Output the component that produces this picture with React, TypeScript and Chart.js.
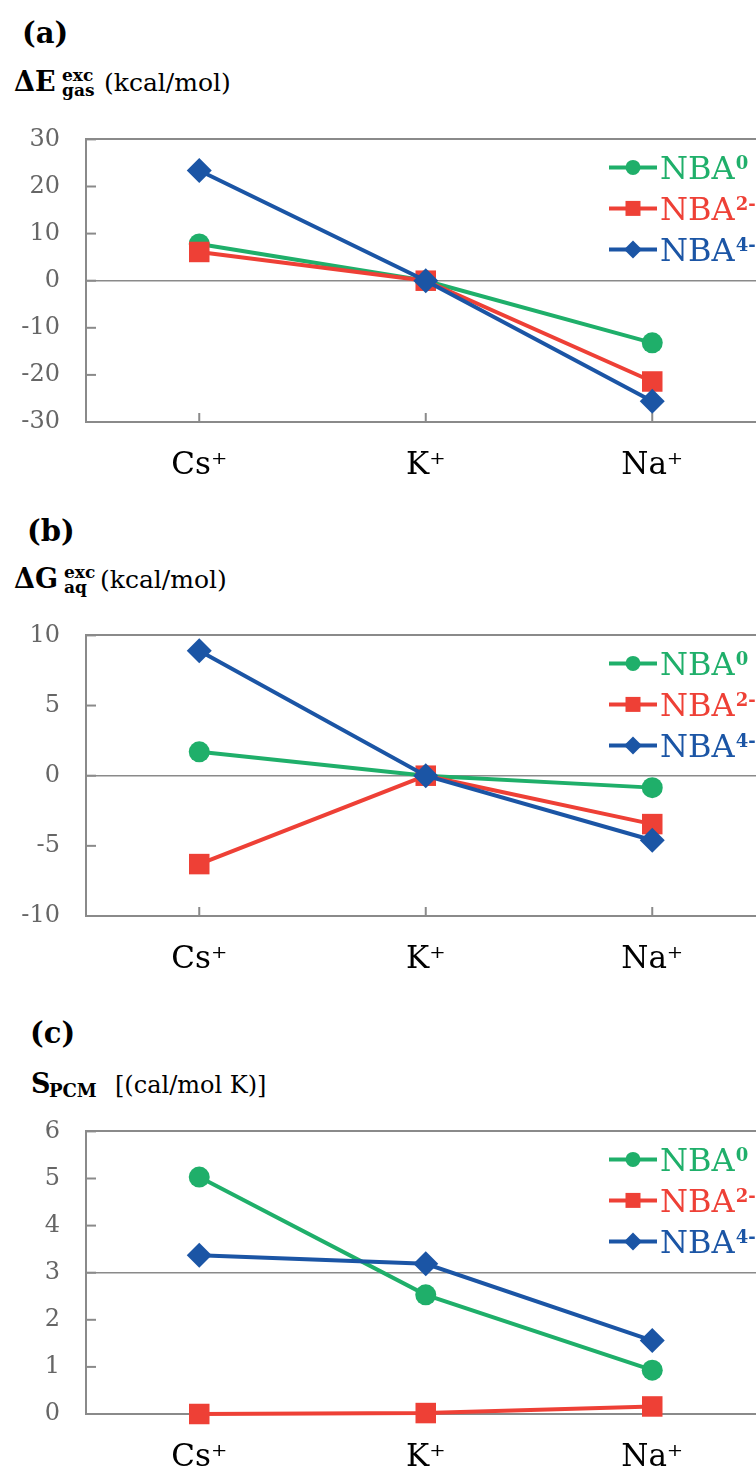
import React, { useEffect, useRef } from 'react';
import { Chart, registerables } from 'chart.js';
import { drawPoint } from 'chart.js/helpers';

Chart.register(...registerables);

// ---------- data ----------
const categories = ['Cs⁺', 'K⁺', 'Na⁺'];
const seriesNames = ['NBA', 'NBA', 'NBA'];
const seriesSup = ['0', '2-', '4-'];
const seriesColors = ['#1FAF6A', '#EE4036', '#1B55A5'];
const seriesStyles = ['circle', 'rect', 'rectRot'];

const gasNBA0 = [7.8, 0, -13.2];
const gasNBA2 = [6.1, 0, -21.4];
const gasNBA4 = [23.4, 0, -25.6];
const gasTicks = [-30, -20, -10, 0, 10, 20, 30];

const aqNBA0 = [1.7, 0, -0.85];
const aqNBA2 = [-6.3, 0, -3.45];
const aqNBA4 = [8.9, 0, -4.6];
const aqTicks = [-10, -5, 0, 5, 10];

const pcmNBA0 = [5.03, 2.53, 0.93];
const pcmNBA2 = [0.0, 0.02, 0.16];
const pcmNBA4 = [3.37, 3.19, 1.56];
const pcmTicks = [0, 1, 2, 3, 4, 5, 6];

const FONT = '"DejaVu Serif"';
const AXIS_GRAY = '#8a8a8a';
const LABEL_GRAY = '#666666';

const pointRadii = [10.5, 14.5, 12.5];
const legendRadii = [7.5, 10.6, 9];

// ---------- plugin: inside ticks + custom legend ----------
const decorPlugin = {
  id: 'decor',
  beforeDatasetsDraw(chart: any) {
    const { ctx, chartArea, scales } = chart;
    ctx.save();
    ctx.strokeStyle = AXIS_GRAY;
    ctx.lineWidth = 2;
    const ys = scales.y;
    ys.ticks.forEach((t: any) => {
      const py = ys.getPixelForValue(t.value);
      ctx.beginPath();
      ctx.moveTo(chartArea.left, py);
      ctx.lineTo(chartArea.left + 10, py);
      ctx.stroke();
    });
    const xs = scales.x;
    xs.ticks.forEach((_t: any, i: number) => {
      const px = xs.getPixelForValue(i);
      ctx.beginPath();
      ctx.moveTo(px, chartArea.bottom);
      ctx.lineTo(px, chartArea.bottom - 9);
      ctx.stroke();
    });
    ctx.restore();
  },
  afterDraw(chart: any, _args: any, opts: any) {
    const { ctx, chartArea } = chart;
    const lx = chartArea.left + opts.x;
    chart.data.datasets.forEach((ds: any, i: number) => {
      const y = chartArea.top + opts.y0 + i * opts.dy;
      ctx.save();
      ctx.strokeStyle = ds.borderColor;
      ctx.fillStyle = ds.borderColor;
      ctx.lineWidth = 4;
      ctx.beginPath();
      ctx.moveTo(lx, y);
      ctx.lineTo(lx + 48, y);
      ctx.stroke();
      drawPoint(ctx, { pointStyle: ds.pointStyle, rotation: 0, radius: legendRadii[i], borderWidth: 0 } as any, lx + 24, y);
      ctx.font = `32px ${FONT}`;
      ctx.textBaseline = 'alphabetic';
      ctx.textAlign = 'left';
      const tx = lx + 51;
      ctx.fillText(seriesNames[i], tx, y + 12);
      const w = ctx.measureText(seriesNames[i]).width;
      ctx.font = `bold 18px ${FONT}`;
      ctx.fillText(seriesSup[i], tx + w + 1, y + 2);
      ctx.restore();
    });
  },
};

function makeConfig(series: number[][], ticks: number[]) {
  const min = ticks[0];
  const max = ticks[ticks.length - 1];
  const step = ticks[1] - ticks[0];
  const mid = (min + max) / 2;
  return {
    type: 'line',
    data: {
      labels: categories,
      datasets: series.map((vals, i) => ({
        label: seriesNames[i] + seriesSup[i],
        data: vals,
        borderColor: seriesColors[i],
        backgroundColor: seriesColors[i],
        pointBackgroundColor: seriesColors[i],
        pointBorderColor: seriesColors[i],
        pointBorderWidth: 0,
        pointStyle: seriesStyles[i],
        pointRadius: pointRadii[i],
        borderWidth: 4,
        tension: 0,
        fill: false,
        clip: false,
        order: 3 - i,
      })),
    },
    options: {
      responsive: false,
      animation: false,
      events: [],
      layout: { padding: { top: 27, left: 6, right: 14, bottom: 8 } },
      plugins: {
        legend: { display: false },
        tooltip: { enabled: false },
        decor: { x: 523, y0: 28, dy: 41 },
      },
      scales: {
        x: {
          type: 'category',
          offset: true,
          afterFit: (s: any) => { s.height = 60; },
          grid: { display: false, drawTicks: false },
          border: { display: true, color: AXIS_GRAY, width: 2 },
          ticks: { color: '#000', font: { family: FONT, size: 31 }, padding: 25, maxRotation: 0 },
        },
        y: {
          min,
          max,
          afterFit: (s: any) => { s.width = 80; },
          grid: {
            drawTicks: false,
            color: (c: any) => (c.tick && (c.tick.value === mid || c.tick.value === max) ? AXIS_GRAY : 'rgba(0,0,0,0)'),
            lineWidth: (c: any) => (c.tick && c.tick.value === max ? 2 : 1.5),
          },
          border: { display: true, color: AXIS_GRAY, width: 2 },
          ticks: { stepSize: step, color: LABEL_GRAY, font: { family: FONT, size: 24 }, padding: 26 },
        },
      },
    },
    plugins: [decorPlugin],
  } as any;
}

function ChartPanel({ top, height, series, ticks }: { top: number; height: number; series: number[][]; ticks: number[] }) {
  const ref = useRef<HTMLCanvasElement | null>(null);
  useEffect(() => {
    if (!ref.current) return;
    const chart = new Chart(ref.current, makeConfig(series, ticks));
    return () => chart.destroy();
  }, []);
  return (
    <canvas
      ref={ref}
      width={780}
      height={height}
      style={{ position: 'absolute', left: 0, top, width: 780, height }}
    />
  );
}

function T({ x, base, size, bold, children }: { x: number; base: number; size: number; bold?: boolean; children: any }) {
  return (
    <div
      style={{
        position: 'absolute',
        left: x,
        top: base - 0.846 * size,
        fontFamily: FONT,
        fontSize: size,
        lineHeight: `${size}px`,
        fontWeight: bold ? 700 : 400,
        whiteSpace: 'nowrap',
        color: '#000',
      }}
    >
      {children}
    </div>
  );
}

export default function App() {
  return (
    <div style={{ position: 'absolute', left: 0, top: 0, width: 756, height: 1470, overflow: 'hidden', background: '#fff' }}>
      {/* (a) */}
      <T x={22} base={44} size={29} bold>(a)</T>
      <T x={14} base={91} size={27} bold>ΔE</T>
      <T x={62} base={81} size={17} bold>exc</T>
      <T x={62} base={96} size={17} bold>gas</T>
      <T x={104} base={91} size={25}>(kcal/mol)</T>
      <ChartPanel top={99} height={391} series={[gasNBA0, gasNBA2, gasNBA4]} ticks={gasTicks} />

      {/* (b) */}
      <T x={27} base={542} size={29} bold>(b)</T>
      <T x={14} base={588} size={27} bold>ΔG</T>
      <T x={64} base={578} size={17} bold>exc</T>
      <T x={64} base={593} size={17} bold>aq</T>
      <T x={100} base={588} size={25}>(kcal/mol)</T>
      <ChartPanel top={595} height={389} series={[aqNBA0, aqNBA2, aqNBA4]} ticks={aqTicks} />

      {/* (c) */}
      <T x={30} base={1044} size={29} bold>(c)</T>
      <T x={31} base={1093} size={27} bold>S</T>
      <T x={49} base={1097} size={18} bold>PCM</T>
      <T x={115} base={1093} size={24}>[(cal/mol K)]</T>
      <ChartPanel top={1091} height={391} series={[pcmNBA0, pcmNBA2, pcmNBA4]} ticks={pcmTicks} />
    </div>
  );
}
